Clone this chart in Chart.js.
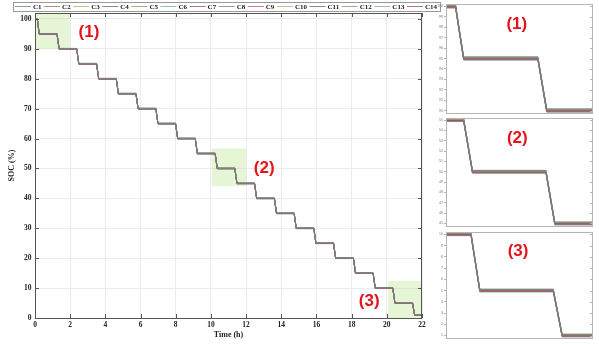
<!DOCTYPE html>
<html><head><meta charset="utf-8">
<script src="https://cdn.jsdelivr.net/npm/chart.js@4/dist/chart.umd.min.js"></script>
<style>
html,body{margin:0;padding:0;background:#fff;width:599px;height:344px;overflow:hidden}
#main{position:absolute;left:0;top:0;width:445px;height:344px}
.inset{position:absolute;left:436px;width:160px}
</style></head><body>
<div id="main"><canvas id="c0"></canvas></div>
<div class="inset" style="top:1px;height:116px"><canvas id="c1"></canvas></div>
<div class="inset" style="top:115px;height:115px"><canvas id="c2"></canvas></div>
<div class="inset" style="top:229px;height:113px"><canvas id="c3"></canvas></div>
<script>
// ---------- data ----------
const cells = ['C1','C2','C3','C4','C5','C6','C7','C8','C9','C10','C11','C12','C13','C14'];
// time (h) at which each 5 % discharge step starts / ends
const dropStart = [0.13,1.25,2.37,3.50,4.62,5.74,6.87,7.99,9.11,10.24,11.36,12.48,13.61,14.73,15.85,16.97,18.10,19.22,20.34,21.46];
const dropEnd   = [0.24,1.37,2.49,3.62,4.74,5.86,6.99,8.11,9.23,10.36,11.48,12.60,13.73,14.85,15.97,17.09,18.22,19.34,20.46,21.58];
const endTime = 22.0;
// SOC plateau levels (%) of every cell
const socC1  = [100.15,95.15,90.16,85.15,80.15,75.14,70.15,65.15,60.14,55.15,50.14,45.14,40.13,35.14,30.13,25.13,20.12,15.13,10.12,5.12,1.12];
const socC2  = [99.88,94.88,89.88,84.88,79.89,74.88,69.88,64.89,59.88,54.88,49.89,44.88,39.89,34.89,29.89,24.89,19.90,14.89,9.90,4.90,0.90];
const socC3  = [100.08,95.08,90.08,85.08,80.07,75.08,70.08,65.07,60.08,55.08,50.07,45.08,40.07,35.07,30.07,25.07,20.07,15.07,10.06,5.07,1.06];
const socC4  = [99.95,94.95,89.95,84.95,79.95,74.95,69.95,64.95,59.96,54.95,49.96,44.95,39.96,34.96,29.96,24.96,19.96,14.96,9.96,4.96,0.96];
const socC5  = [100.12,95.12,90.12,85.12,80.11,75.12,70.11,65.11,60.11,55.11,50.11,45.11,40.10,35.11,30.10,25.10,20.10,15.10,10.10,5.10,1.09];
const socC6  = [99.85,94.85,89.85,84.85,79.86,74.85,69.86,64.86,59.86,54.86,49.86,44.86,39.87,34.87,29.87,24.87,19.87,14.88,9.88,4.88,0.88];
const socC7  = [100.02,95.02,90.02,85.02,80.02,75.02,70.02,65.02,60.02,55.02,50.02,45.02,40.02,35.02,30.02,25.02,20.02,15.02,10.02,5.02,1.02];
const socC8  = [100.10,95.10,90.10,85.10,80.09,75.10,70.09,65.09,60.09,55.09,50.09,45.09,40.09,35.09,30.08,25.08,20.08,15.08,10.08,5.08,1.08];
const socC9  = [99.92,94.92,89.92,84.92,79.92,74.92,69.92,64.93,59.93,54.93,49.93,44.93,39.93,34.93,29.93,24.93,19.93,14.93,9.94,4.94,0.94];
const socC10 = [100.05,95.05,90.05,85.05,80.05,75.05,70.05,65.05,60.05,55.05,50.05,45.04,40.04,35.04,30.04,25.04,20.04,15.04,10.04,5.04,1.04];
const socC11 = [99.98,94.98,89.98,84.98,79.98,74.98,69.98,64.98,59.98,54.98,49.98,44.98,39.98,34.98,29.98,24.98,19.98,14.98,9.98,4.98,0.98];
const socC12 = [100.14,95.14,90.14,85.14,80.13,75.13,70.13,65.13,60.13,55.13,50.12,45.12,40.12,35.12,30.12,25.12,20.11,15.11,10.11,5.11,1.11];
const socC13 = [99.90,94.90,89.90,84.90,79.90,74.90,69.90,64.91,59.91,54.91,49.91,44.91,39.91,34.91,29.91,24.91,19.92,14.92,9.92,4.92,0.92];
const socC14 = [100.00,95.00,90.00,85.00,80.00,75.00,70.00,65.00,60.00,55.00,50.00,45.00,40.00,35.00,30.00,25.00,20.00,15.00,10.00,5.00,1.00];
const socSeries = [socC1,socC2,socC3,socC4,socC5,socC6,socC7,socC8,socC9,socC10,socC11,socC12,socC13,socC14];

const xTicks = [0,2,4,6,8,10,12,14,16,18,20,22];
const yTicks = [0,10,20,30,40,50,60,70,80,90,100];
const xTitle = 'Time (h)';
const yTitle = 'SOC (%)';

// zoomed regions (1)(2)(3)
const zoomLabels = ['(1)','(2)','(3)'];
const zoomT0 = [0, 10.04, 20.07];
const zoomT1 = [2.0, 12.0, 22.0];
const zoomS0 = [90, 44.1, 0];
const zoomS1 = [102, 56.7, 12.4];
const zoomLabelT = [3.07, 13.03, 19.0];
const zoomLabelS = [95.4, 50.1, 5.45];

// insets
const insetT0 = [0, 10, 20];
const insetT1 = [2, 12, 22];
const insetS0 = [89.68, 44.67, 0.7];
const insetS1 = [100.23, 55.19, 10.2];
const insetTicks1 = [90,91,92,93,94,95,96,97,98,99,100];
const insetTicks2 = [45,46,47,48,49,50,51,52,53,54,55];
const insetTicks3 = [1,2,3,4,5,6,7,8,9,10];
const insetTicks = [insetTicks1, insetTicks2, insetTicks3];
const insetLabelT = [0.963, 10.97, 20.98];
const insetLabelS = [98.33, 53.26, 8.53];

// ---------- styling ----------
const palette = ['rgba(95,125,150,0.75)','rgba(170,100,90,0.75)','rgba(190,165,100,0.75)','rgba(120,85,125,0.75)',
                 'rgba(125,150,95,0.75)','rgba(115,160,185,0.75)','rgba(145,75,90,0.75)'];
const serif = '"Liberation Serif","Times New Roman",serif';
const sans = '"Liberation Sans",Arial,sans-serif';

function stairs(levels){
  const pts = [{x:0, y:levels[0]}];
  for (let k = 0; k < dropStart.length; k++){
    pts.push({x:dropStart[k], y:levels[k]});
    pts.push({x:dropEnd[k], y:levels[k+1]});
  }
  pts.push({x:endTime, y:levels[levels.length-1]});
  return pts;
}
function makeDatasets(w){
  return cells.map((c,i)=>({
    label:c, data:stairs(socSeries[i]), borderColor:palette[i%7], backgroundColor:palette[i%7],
    borderWidth:w, pointRadius:0, tension:0, fill:false
  }));
}

// ---------- main chart ----------
const mainPlugin = {
  id:'mainDeco',
  beforeDatasetsDraw(chart){
    const {ctx, scales:{x,y}} = chart;
    ctx.save();
    ctx.fillStyle = 'rgba(190,230,150,0.4)';
    for (let i = 0; i < zoomT0.length; i++){
      const x0 = x.getPixelForValue(zoomT0[i]), x1 = x.getPixelForValue(zoomT1[i]);
      const y0 = y.getPixelForValue(zoomS0[i]), y1 = y.getPixelForValue(zoomS1[i]);
      ctx.fillRect(x0, y1, x1-x0, y0-y1);
    }
    ctx.restore();
  },
  afterDatasetsDraw(chart){
    const {ctx, chartArea:a, scales:{x,y}} = chart;
    ctx.save();
    // axes box
    ctx.strokeStyle = '#555'; ctx.lineWidth = 1;
    ctx.strokeRect(Math.round(a.left)+0.5, Math.round(a.top)+0.5, Math.round(a.right-a.left)-1, Math.round(a.bottom-a.top));
    // inward ticks
    ctx.beginPath();
    xTicks.forEach(v=>{
      const px = Math.round(x.getPixelForValue(v))+0.5;
      ctx.moveTo(px, a.bottom); ctx.lineTo(px, a.bottom-4);
      ctx.moveTo(px, a.top); ctx.lineTo(px, a.top+4);
    });
    yTicks.forEach(v=>{
      const py = Math.round(y.getPixelForValue(v))+0.5;
      ctx.moveTo(a.left, py); ctx.lineTo(a.left+4, py);
      ctx.moveTo(a.right, py); ctx.lineTo(a.right-4, py);
    });
    ctx.stroke();
    // region labels
    ctx.fillStyle = '#e3141b';
    ctx.font = 'bold 17px ' + sans;
    ctx.textAlign = 'center'; ctx.textBaseline = 'middle';
    for (let i = 0; i < zoomLabels.length; i++){
      ctx.fillText(zoomLabels[i], x.getPixelForValue(zoomLabelT[i]), y.getPixelForValue(zoomLabelS[i]));
    }
    // legend
    ctx.font = 'bold 7px ' + serif;
    ctx.textAlign = 'left'; ctx.textBaseline = 'middle';
    const ly = 6.5, lineLen = 16, gap = 2, startX = 15, endX = 437;
    const items = chart.data.datasets.map(d=>({label:d.label, color:d.borderColor, w:ctx.measureText(d.label).width}));
    const used = items.reduce((s,it)=>s + lineLen + gap + it.w, 0);
    const spacing = (endX - startX - used) / (items.length - 1);
    ctx.fillStyle = '#fff';
    ctx.fillRect(13, 2, 427, 9);
    ctx.strokeStyle = '#999';
    ctx.strokeRect(13.5, 2.5, 427, 9);
    let px = startX;
    items.forEach(it=>{
      ctx.strokeStyle = it.color; ctx.lineWidth = 1;
      ctx.beginPath(); ctx.moveTo(px, ly); ctx.lineTo(px+lineLen, ly); ctx.stroke();
      ctx.fillStyle = '#222';
      ctx.fillText(it.label, px+lineLen+gap, ly+0.5);
      px += lineLen + gap + it.w + spacing;
    });
    ctx.restore();
  }
};

new Chart(document.getElementById('c0'), {
  type:'line',
  data:{datasets:makeDatasets(1)},
  options:{
    responsive:true, maintainAspectRatio:false, animation:false, devicePixelRatio:1,
    layout:{padding:{top:13,right:23,left:0,bottom:0}},
    plugins:{legend:{display:false}, tooltip:{enabled:false}},
    scales:{
      x:{type:'linear', min:0, max:22,
        afterBuildTicks:s=>{ s.ticks = xTicks.map(v=>({value:v})); },
        afterFit:s=>{ s.height = 26; },
        ticks:{font:{family:serif, weight:'bold', size:7.5}, color:'#222', padding:3, maxRotation:0, autoSkip:false},
        grid:{color:'#ececec', drawTicks:false},
        border:{display:false},
        title:{display:true, text:xTitle, font:{family:serif, weight:'bold', size:8}, color:'#222', padding:{top:0,bottom:4.5}}
      },
      y:{type:'linear', min:0, max:102,
        afterBuildTicks:s=>{ s.ticks = yTicks.map(v=>({value:v})); },
        afterFit:s=>{ s.width = 35; },
        ticks:{font:{family:serif, weight:'bold', size:7.5}, color:'#222', padding:3.5, autoSkip:false},
        grid:{color:'#ececec', drawTicks:false},
        border:{display:false},
        title:{display:true, text:yTitle, font:{family:serif, weight:'bold', size:8}, color:'#222', padding:{top:7.2,bottom:0}}
      }
    }
  },
  plugins:[mainPlugin]
});

// ---------- insets ----------
function insetPlugin(idx){
  return {
    id:'insetDeco'+idx,
    afterDatasetsDraw(chart){
      const {ctx, chartArea:a, scales:{x,y}} = chart;
      ctx.save();
      ctx.strokeStyle = '#b5b5b5'; ctx.lineWidth = 1;
      ctx.strokeRect(Math.round(a.left)+0.5, Math.round(a.top)+0.5, Math.round(a.right-a.left)-1, Math.round(a.bottom-a.top)-1);
      ctx.beginPath();
      insetTicks[idx].forEach(v=>{
        const py = Math.round(y.getPixelForValue(v))+0.5;
        ctx.moveTo(a.right-1, py); ctx.lineTo(a.right-3, py);
      });
      ctx.stroke();
      ctx.fillStyle = '#e3141b';
      ctx.font = 'bold 17px ' + sans;
      ctx.textAlign = 'center'; ctx.textBaseline = 'middle';
      ctx.fillText(zoomLabels[idx], x.getPixelForValue(insetLabelT[idx]), y.getPixelForValue(insetLabelS[idx]));
      ctx.restore();
    }
  };
}
for (let i = 0; i < 3; i++){
  new Chart(document.getElementById('c'+(i+1)), {
    type:'line',
    data:{datasets:makeDatasets(1)},
    options:{
      responsive:true, maintainAspectRatio:false, animation:false, devicePixelRatio:1,
      layout:{padding:{top:1,right:3,left:0,bottom:1}},
      plugins:{legend:{display:false}, tooltip:{enabled:false}},
      scales:{
        x:{type:'linear', min:insetT0[i], max:insetT1[i],
          afterFit:s=>{ s.height = 0; },
          ticks:{display:false},
          grid:{display:false},
          border:{display:false}
        },
        y:{type:'linear', min:insetS0[i], max:insetS1[i],
          afterBuildTicks:s=>{ s.ticks = insetTicks[i].map(v=>({value:v})); },
          afterFit:s=>{ s.width = 10; },
          ticks:{font:{family:sans, size:3.5}, color:'#777', padding:1, autoSkip:false},
          grid:{drawOnChartArea:false, drawTicks:true, tickLength:2, color:'#b5b5b5'},
          border:{display:false}
        }
      }
    },
    plugins:[insetPlugin(i)]
  });
}
</script>
</body></html>
